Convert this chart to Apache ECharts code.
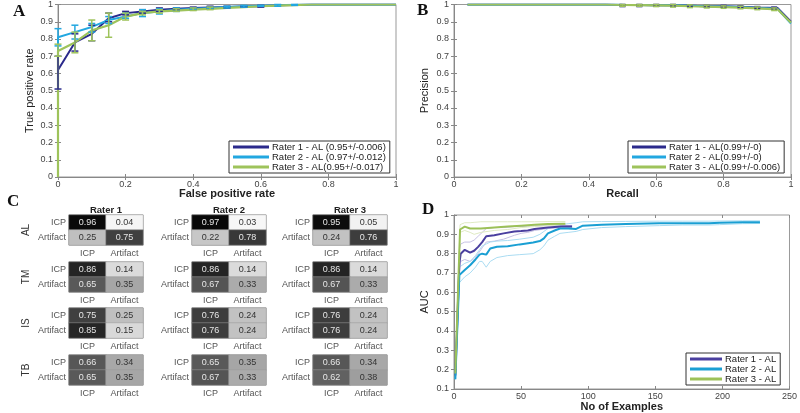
<!DOCTYPE html>
<html><head><meta charset="utf-8">
<script src="https://cdn.jsdelivr.net/npm/echarts@6/dist/echarts.min.js"></script>
<style>html,body{margin:0;padding:0;background:#fff}#c{width:800px;height:413px}</style>
</head><body><div id="c"></div>
<script>
// ---------- Panel A: ROC ----------
const rocX  = [0,0,0.05,0.1,0.15,0.2,0.25,0.3,0.35,0.4,0.45,0.5,0.55,0.6,0.65,0.7,0.75,0.8,0.9,1];
const rocR1 = [0,0.62,0.78,0.83,0.92,0.95,0.96,0.97,0.975,0.98,0.983,0.985,0.988,0.99,0.995,0.997,1,1,1,1];
const rocR2 = [0,0.81,0.84,0.87,0.91,0.93,0.95,0.96,0.97,0.975,0.98,0.985,0.99,0.993,0.995,0.998,1,1,1,1];
const rocR3 = [0,0.73,0.78,0.85,0.88,0.93,0.95,0.96,0.965,0.97,0.975,0.98,0.985,0.99,0.993,0.996,1,1,1,1];
const rocR1ErrX = [0,0.05,0.1,0.15,0.2,0.25,0.3,0.35,0.4,0.45,0.5,0.55,0.6];
const rocR1Lo   = [0.51,0.73,0.79,0.90,0.94,0.95,0.96,0.97,0.975,0.98,0.98,0.985,0.985];
const rocR1Hi   = [0.70,0.83,0.88,0.95,0.96,0.97,0.98,0.98,0.985,0.99,0.99,0.99,0.995];
const rocR2ErrX = [0,0.05,0.1,0.15,0.2,0.25,0.3,0.35,0.4,0.45,0.5,0.55,0.6,0.65,0.7];
const rocR2Lo   = [0.76,0.80,0.84,0.89,0.92,0.93,0.945,0.96,0.97,0.975,0.98,0.985,0.99,0.99,0.995];
const rocR2Hi   = [0.86,0.88,0.89,0.93,0.95,0.97,0.975,0.98,0.98,0.985,0.99,0.995,0.995,1,1];
const rocR3ErrX = [0,0.05,0.1,0.15,0.2,0.25,0.3,0.35,0.4,0.45];
const rocR3Lo   = [0.70,0.72,0.79,0.81,0.91,0.94,0.95,0.96,0.965,0.97];
const rocR3Hi   = [0.77,0.84,0.91,0.95,0.95,0.96,0.97,0.975,0.98,0.985];
const rocNames  = ['Rater 1 - AL (0.95+/-0.006)','Rater 2 - AL (0.97+/-0.012)','Rater 3 - AL(0.95+/-0.017)'];

// ---------- Panel B: Precision-Recall ----------
const prX  = [0.04,0.1,0.2,0.3,0.4,0.45,0.5,0.55,0.6,0.65,0.7,0.75,0.8,0.85,0.9,0.96,1];
const prR1 = [1,1,1,1,1,1,0.997,0.997,0.995,0.995,0.993,0.99,0.99,0.987,0.983,0.98,0.90];
const prR2 = [1,1,1,1,1,1,0.998,0.997,0.996,0.995,0.993,0.99,0.988,0.985,0.98,0.975,0.89];
const prR3 = [1,1,1,1,1,1,0.997,0.996,0.995,0.993,0.99,0.988,0.985,0.982,0.978,0.972,0.895];
const prErrX = [0.5,0.55,0.6,0.65,0.7,0.75,0.8,0.85,0.9,0.95];
const prR1Lo = [0.988,0.988,0.99,0.99,0.988,0.985,0.985,0.982,0.978,0.975];
const prR1Hi = [1,1,1,1,0.998,0.995,0.995,0.992,0.988,0.985];
const prR3Lo = [0.99,0.99,0.988,0.985,0.982,0.98,0.978,0.975,0.97,0.965];
const prR3Hi = [1,1,1,1,0.998,0.996,0.992,0.99,0.986,0.98];
const prNames = ['Rater 1 - AL(0.99+/-0)','Rater 2 - AL(0.99+/-0)','Rater 3 - AL(0.99+/-0.006)'];

// ---------- Panel D: AUC vs number of examples ----------
const dR1X = [1,4,5,8,12,15,18,21,24,30,37,45,50,55,60,70,80,88];
const dR1  = [0.17,0.75,0.80,0.82,0.805,0.815,0.835,0.86,0.89,0.895,0.905,0.915,0.917,0.92,0.928,0.935,0.94,0.94];
const dR1Up = [0.17,0.82,0.85,0.86,0.86,0.87,0.89,0.91,0.93,0.935,0.935,0.94,0.94,0.942,0.944,0.945,0.946,0.946];
const dR1Lo = [0.17,0.70,0.76,0.77,0.76,0.775,0.80,0.83,0.86,0.865,0.875,0.895,0.905,0.91,0.92,0.93,0.935,0.935];
const dR2X = [1,4,5,8,12,16,19,21,24,27,32,40,49,59,64,67,70,75,79,85,91,96,110,128,153,170,190,198,215,228];
const dR2  = [0.15,0.69,0.70,0.715,0.74,0.77,0.795,0.80,0.795,0.827,0.836,0.838,0.848,0.858,0.865,0.879,0.905,0.92,0.93,0.93,0.928,0.945,0.95,0.953,0.957,0.957,0.957,0.96,0.962,0.963];
const dR2Up = [0.15,0.73,0.74,0.75,0.76,0.79,0.82,0.84,0.85,0.86,0.865,0.868,0.875,0.885,0.90,0.915,0.93,0.94,0.95,0.955,0.96,0.965,0.966,0.967,0.968,0.968,0.968,0.969,0.97,0.97];
const dR2Lo = [0.15,0.65,0.66,0.68,0.70,0.73,0.76,0.76,0.73,0.76,0.78,0.79,0.795,0.80,0.82,0.84,0.87,0.89,0.905,0.91,0.915,0.925,0.935,0.94,0.945,0.948,0.948,0.95,0.955,0.956];
const dR3X = [1,4.5,8,12,15,20,30,40,50,60,70,83];
const dR3  = [0.18,0.925,0.94,0.93,0.93,0.93,0.935,0.94,0.945,0.95,0.953,0.955];
const dR3Up = [0.18,0.95,0.96,0.96,0.962,0.965,0.965,0.965,0.965,0.965,0.966,0.966];
const dR3Lo = [0.18,0.91,0.92,0.91,0.90,0.91,0.92,0.925,0.935,0.94,0.945,0.95];
const dNames = ['Rater 1 - AL','Rater 2 - AL','Rater 3 - AL'];

// ---------- Panel C: confusion matrices ----------
const cmGroups  = ['AL','TM','IS','TB'];
const cmRaters  = ['Rater 1','Rater 2','Rater 3'];
const cmClasses = ['ICP','Artifact'];
const cmAL = [[[0.96,0.04],[0.25,0.75]], [[0.97,0.03],[0.22,0.78]], [[0.95,0.05],[0.24,0.76]]];
const cmTM = [[[0.86,0.14],[0.65,0.35]], [[0.86,0.14],[0.67,0.33]], [[0.86,0.14],[0.67,0.33]]];
const cmIS = [[[0.75,0.25],[0.85,0.15]], [[0.76,0.24],[0.76,0.24]], [[0.76,0.24],[0.76,0.24]]];
const cmTB = [[[0.66,0.34],[0.65,0.35]], [[0.65,0.35],[0.67,0.33]], [[0.66,0.34],[0.62,0.38]]];
const cmAll = [cmAL, cmTM, cmIS, cmTB];

const C1 = '#2b2a8c', C2 = '#22a7e0', C3 = '#9ec35b';
const D1 = '#4a3f9f', D2 = '#1a9fd3', D3 = '#9cc158';
const FONT = 'Arial, "Liberation Sans", sans-serif';
const SERIF = '"Times New Roman", "Liberation Serif", serif';

const grids = [], xAxes = [], yAxes = [], series = [], legends = [], graphics = [];

function zip(a, b) { return a.map((v, i) => [v, b[i]]); }
function errData(x, lo, hi) { return x.map((v, i) => [v, lo[i], hi[i]]); }
function errRender(color, w) {
  return function (params, api) {
    const x = api.value(0), lo = api.value(1), hi = api.value(2);
    const p1 = api.coord([x, lo]), p2 = api.coord([x, hi]);
    const style = { stroke: color, lineWidth: 1.5 };
    return { type: 'group', children: [
      { type: 'line', shape: { x1: p1[0], y1: p1[1], x2: p2[0], y2: p2[1] }, style },
      { type: 'line', shape: { x1: p1[0] - w, y1: p1[1], x2: p1[0] + w, y2: p1[1] }, style },
      { type: 'line', shape: { x1: p2[0] - w, y1: p2[1], x2: p2[0] + w, y2: p2[1] }, style }
    ]};
  };
}
const axisCommon = {
  axisLine: { show: true, lineStyle: { color: '#888', width: 1 } },
  axisTick: { show: true, inside: true, length: 3, lineStyle: { color: '#888' } },
  splitLine: { show: false },
  nameMoveOverlap: false
};
const plotAxes = [];
function plotGrid(pos, xa, ya, xm, ym) {
  const gi = grids.length;
  grids.push(Object.assign({ show: true, borderColor: '#999', borderWidth: 1, containLabel: false }, pos));
  xAxes.push(Object.assign({ type: 'value', gridIndex: gi, position: 'bottom' }, axisCommon, xa,
    { axisLabel: { color: '#444', fontSize: 9, fontFamily: FONT, margin: xm },
      nameTextStyle: { color: '#222', fontFamily: FONT, fontSize: 11, fontWeight: 'bold' } }));
  yAxes.push(Object.assign({ type: 'value', gridIndex: gi }, axisCommon, ya,
    { axisLabel: { color: '#444', fontSize: 9, fontFamily: FONT, margin: ym },
      nameTextStyle: { color: '#222', fontFamily: FONT, fontSize: 11 } }));
  plotAxes.push([gi, xa, ya]);
  return gi;
}
function line(gi, name, data, color, width, z) {
  series.push({ type: 'line', name, xAxisIndex: gi, yAxisIndex: gi, data, showSymbol: false,
    symbol: 'none', lineStyle: { color, width }, itemStyle: { color }, z: z || 2, animation: false });
}
function err(gi, data, color, w) {
  series.push({ type: 'custom', xAxisIndex: gi, yAxisIndex: gi, data, renderItem: errRender(color, w),
    encode: { x: 0, y: [1, 2] }, z: 3, animation: false, silent: true });
}
function legend(names, pos, fs, iw) {
  legends.push(Object.assign({ data: names, orient: 'vertical', icon: 'rect', itemWidth: iw, itemHeight: 3,
    itemGap: 0, padding: [1, 4, 1, 4], backgroundColor: '#fff', borderColor: '#333', borderWidth: 1,
    textStyle: { fontSize: fs, lineHeight: 9.5, color: '#222', fontFamily: FONT, padding: [0, 0, 0, -2] },
    selectedMode: false }, pos));
}

// Panel A
const gA = plotGrid({ left: 58, top: 3, width: 338, height: 174 },
  { min: 0, max: 1, interval: 0.2, name: 'False positive rate', nameLocation: 'middle', nameGap: 11 },
  { min: 0, max: 1, interval: 0.1, name: 'True positive rate', nameLocation: 'middle', nameGap: 23 }, 3, 5);
err(gA, errData(rocR1ErrX, rocR1Lo, rocR1Hi), C1, 3.5);
err(gA, errData(rocR2ErrX, rocR2Lo, rocR2Hi), C2, 3.5);
err(gA, errData(rocR3ErrX, rocR3Lo, rocR3Hi), C3, 3.5);
line(gA, rocNames[0], zip(rocX, rocR1), C1, 2);
line(gA, rocNames[1], zip(rocX, rocR2), C2, 2);
line(gA, rocNames[2], zip(rocX, rocR3), C3, 2.2);
legend(rocNames, { left: 229, top: 141 }, 9.5, 36);

// Panel B
const gB = plotGrid({ left: 454, top: 3, width: 337, height: 174 },
  { min: 0, max: 1, interval: 0.2, name: 'Recall', nameLocation: 'middle', nameGap: 11 },
  { min: 0, max: 1, interval: 0.1, name: 'Precision', nameLocation: 'middle', nameGap: 24 }, 3, 5);
err(gB, errData(prErrX, prR1Lo, prR1Hi), C1, 3);
err(gB, errData(prErrX, prR3Lo, prR3Hi), C3, 3);
line(gB, prNames[0], zip(prX, prR1), C1, 2);
line(gB, prNames[1], zip(prX, prR2), C2, 2);
line(gB, prNames[2], zip(prX, prR3), C3, 2.2);
legend(prNames, { left: 628, top: 141 }, 9.5, 34);

// Panel D
const gD = plotGrid({ left: 454, top: 215, width: 337, height: 174 },
  { min: 0, max: 250, interval: 50, name: 'No of Examples', nameLocation: 'middle', nameGap: 12 },
  { min: 0.1, max: 1, interval: 0.1, name: 'AUC', nameLocation: 'middle', nameGap: 24 }, 3, 5);
line(gD, 'b1u', zip(dR1X, dR1Up), '#c5c0e3', 1, 1);
line(gD, 'b1l', zip(dR1X, dR1Lo), '#c5c0e3', 1, 1);
line(gD, 'b2u', zip(dR2X, dR2Up), '#aadcf2', 1, 1);
line(gD, 'b2l', zip(dR2X, dR2Lo), '#aadcf2', 1, 1);
line(gD, 'b3u', zip(dR3X, dR3Up), '#dfeac3', 1, 1);
line(gD, 'b3l', zip(dR3X, dR3Lo), '#dfeac3', 1, 1);
line(gD, dNames[0], zip(dR1X, dR1), D1, 2);
line(gD, dNames[1], zip(dR2X, dR2), D2, 2);
line(gD, dNames[2], zip(dR3X, dR3), D3, 2);
legend(dNames, { left: 686, top: 353 }, 9.5, 32);

// Panel C heatmaps
const cmLefts = [69, 192, 313], cmTops = [215, 262, 308, 355];
const heatIdx = [];
cmAll.forEach((grp, r) => {
  grp.forEach((mat, c) => {
    const gi = grids.length;
    grids.push({ show: true, borderColor: '#888', borderWidth: 1, left: cmLefts[c], top: cmTops[r], width: 74, height: 30 });
    xAxes.push({ type: 'category', gridIndex: gi, data: cmClasses, position: 'bottom',
      axisLine: { show: false }, axisTick: { show: false }, splitLine: { show: false },
      axisLabel: { color: '#555', fontSize: 9, fontFamily: FONT, margin: 4 } });
    yAxes.push({ type: 'category', gridIndex: gi, data: cmClasses, inverse: true,
      axisLine: { show: false }, axisTick: { show: false }, splitLine: { show: false },
      axisLabel: { color: '#555', fontSize: 9, fontFamily: FONT, margin: 3 },
      name: c === 0 ? cmGroups[r] : '', nameLocation: 'middle', nameRotate: 90, nameGap: 38,
      nameMoveOverlap: false,
      nameTextStyle: { color: '#333', fontSize: 10, fontFamily: FONT } });
    const data = [];
    mat.forEach((row, i) => row.forEach((v, j) => {
      data.push({ value: [j, i, v], label: { color: v > 0.5 ? '#e6e6e6' : '#333' } });
    }));
    heatIdx.push(series.length);
    series.push({ type: 'heatmap', xAxisIndex: gi, yAxisIndex: gi, data,
      label: { show: true, fontSize: 9, fontFamily: FONT, formatter: p => p.value[2].toFixed(2) },
      itemStyle: { borderColor: '#999', borderWidth: 0.5 }, animation: false });
  });
});

// mirrored tick marks on top / right edges (MATLAB box style)
plotAxes.forEach(([gi, xa, ya]) => {
  xAxes.push({ type: 'value', gridIndex: gi, position: 'top', min: xa.min, max: xa.max, interval: xa.interval,
    axisLine: { show: false }, axisLabel: { show: false }, splitLine: { show: false },
    axisTick: { show: true, inside: true, length: 3, lineStyle: { color: '#888' } } });
  yAxes.push({ type: 'value', gridIndex: gi, position: 'right', min: ya.min, max: ya.max, interval: ya.interval,
    axisLine: { show: false }, axisLabel: { show: false }, splitLine: { show: false },
    axisTick: { show: true, inside: true, length: 3, lineStyle: { color: '#888' } } });
});

cmRaters.forEach((t, c) => {
  graphics.push({ type: 'text', x: cmLefts[c] + 37, y: 210, style: { text: t, fill: '#222',
    font: 'bold 9.5px ' + FONT, textAlign: 'center', textVerticalAlign: 'middle' } });
});
[['A', 13, 12], ['B', 417, 11], ['C', 7, 202], ['D', 422, 210]].forEach(([t, x, y]) => {
  graphics.push({ type: 'text', x, y, style: { text: t, fill: '#111', font: 'bold 17px ' + SERIF,
    textAlign: 'left', textVerticalAlign: 'middle' } });
});

const chart = echarts.init(document.getElementById('c'), null, { renderer: 'canvas' });
chart.setOption({
  animation: false,
  grid: grids, xAxis: xAxes, yAxis: yAxes, series, legend: legends, graphic: graphics,
  visualMap: { show: false, type: 'continuous', min: 0, max: 1, dimension: 2, seriesIndex: heatIdx,
    inRange: { color: ['#ffffff', '#000000'] } }
});
</script></body></html>
